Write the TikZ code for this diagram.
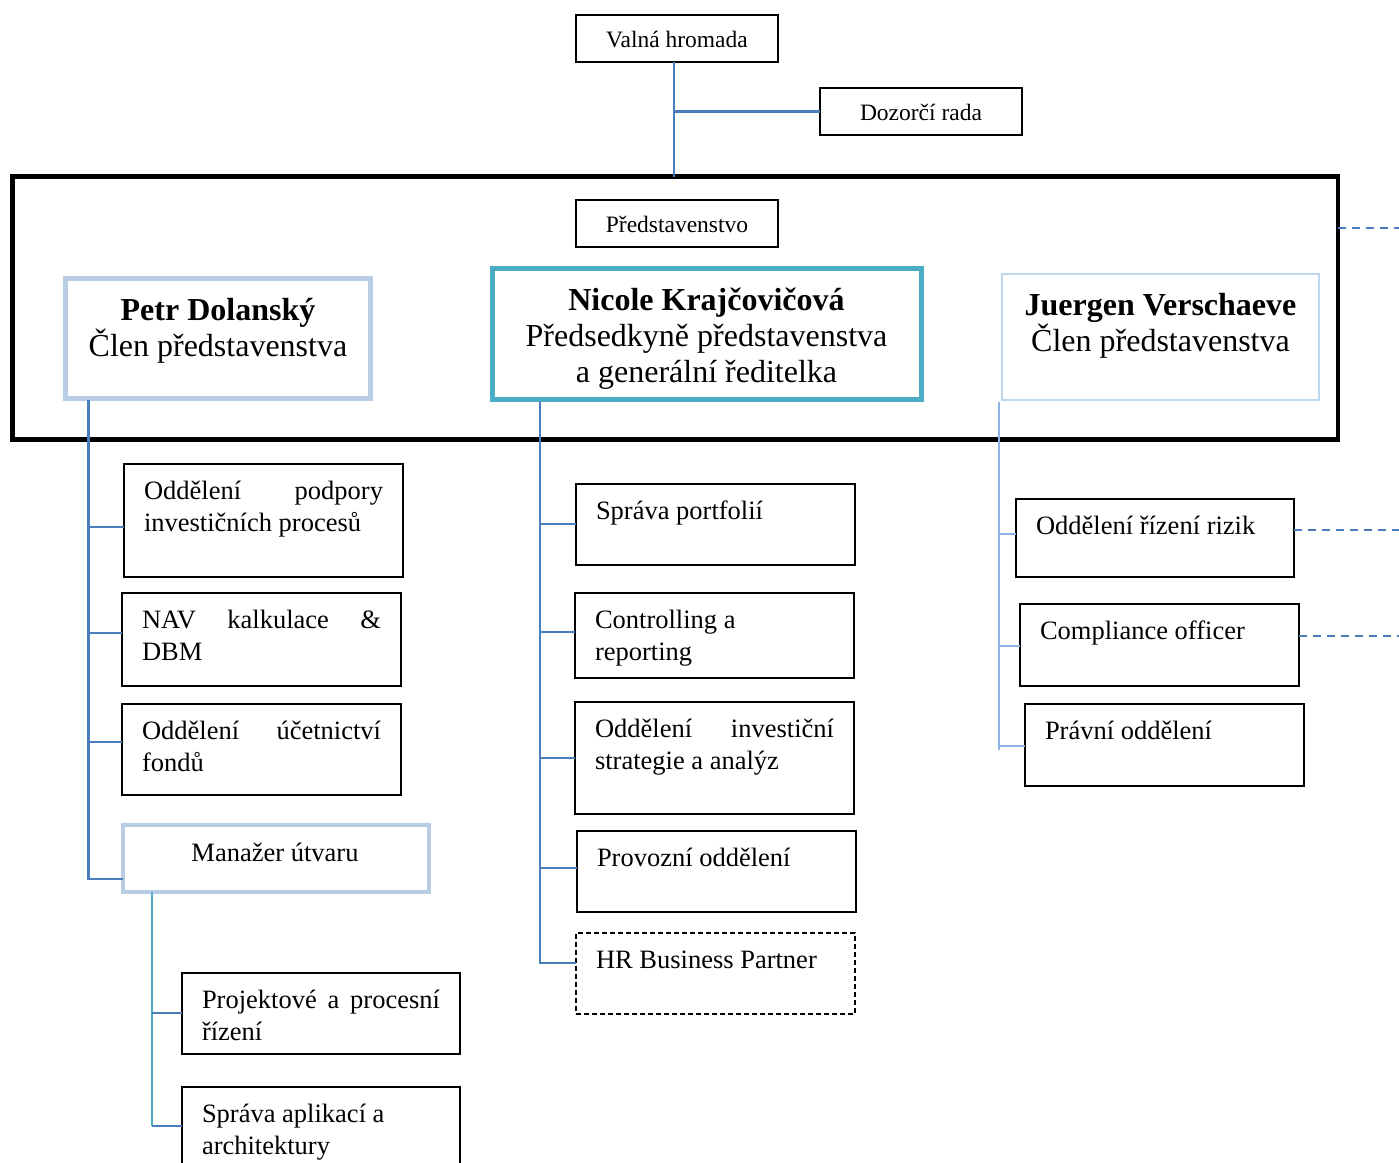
\documentclass[tikz,border=0pt]{standalone}
\usepackage{fontspec}
\setmainfont{Liberation Serif}
\definecolor{connc}{RGB}{74,126,187}
\definecolor{nkteal}{RGB}{75,172,198}
\definecolor{palec}{RGB}{185,205,229}
\definecolor{palebc}{RGB}{189,215,238}
\definecolor{rconnc}{RGB}{141,180,226}
\newcommand\deptfont{\fontsize{26.5}{32}\selectfont}
\newcommand\memfont{\fontsize{32}{36}\selectfont}
\newcommand\topfont{\fontsize{23.5}{28}\selectfont}
\tikzset{
  every node/.style={inner sep=0pt, outer sep=0pt},
  blackbox/.style={draw=black, line width=1.5pt, anchor=north west},
  dashbox/.style={draw=black, line width=1.3pt, dash pattern=on 5pt off 3pt, anchor=north west},
  conn/.style={draw=connc, line width=2.2pt},
  rconn/.style={draw=rconnc, line width=2.2pt},
  tconn/.style={draw=nkteal, line width=1.8pt},
  dashconn/.style={draw=connc, line width=2pt, dash pattern=on 8pt off 6pt},
  dtext/.style={anchor=base west, inner sep=0pt}
}
% \dbox{style}{name}{x1}{y1}{x2}{y2}{text}
\newcommand\dbox[7]{%
  \node[#1, minimum width=#5-#3, minimum height=#6-#4] (#2) at (#3,#4) {};
  \node[dtext] (#2t) at ([shift={(20pt,-35pt)}]#2.north west)
    {\parbox[t]{\dimexpr #5pt-#3pt-40pt\relax}{\deptfont\raggedright #7}};
}
\begin{document}
\begin{tikzpicture}[x=1pt,y=-1pt]
\useasboundingbox[fill=white] (0,0) rectangle (1399,1162);

% top
\node[blackbox, minimum width=202, minimum height=47] (vh) at (576,15) {};
\node (vht) at ([yshift=-1pt]vh.center) {\topfont Valná hromada};
\node[blackbox, minimum width=202, minimum height=47] (dr) at (820,88) {};
\node (drt) at ([yshift=-1pt]dr.center) {\topfont Dozorčí rada};

% frame
\node[draw=black, line width=4.5pt, minimum width=1325.5, minimum height=263, anchor=north west] (frame) at (12.5,176.5) {};
\node[blackbox, minimum width=202, minimum height=47] (pr) at (576,200) {};
\node (prt) at ([yshift=-1pt]pr.center) {\topfont Představenstvo};

\draw[conn] ([xshift=-3pt]vh.south) -- ([xshift=-3pt]vh.south |- frame.north);
\draw[conn] ([xshift=-3pt]vh.south |- dr.west) -- (dr.west);

% members
\node[draw=palec, line width=5pt, minimum width=305, minimum height=120, anchor=north west] (petr) at (65.5,278) {};
\node[anchor=base] (petrt) at (218,320) {\parbox[t]{300pt}{\centering\memfont\textbf{Petr Dolanský}\\Člen představenstva}};
\node[draw=nkteal, line width=5pt, minimum width=429, minimum height=131, anchor=north west] (nic) at (492,268) {};
\node[anchor=base] (nict) at (706.5,310) {\parbox[t]{420pt}{\centering\memfont\textbf{Nicole Krajčovičová}\\Předsedkyně představenstva\\a generální ředitelka}};
\node[draw=palebc, line width=2.5pt, minimum width=317, minimum height=126, anchor=north west] (jv) at (1002,274) {};
\node[anchor=base] (jvt) at (1160.5,315) {\parbox[t]{310pt}{\centering\memfont\textbf{Juergen Verschaeve}\\Člen představenstva}};

\coordinate (e0) at (1399,228);
\draw[dashconn] (frame.east |- e0) -- (e0);

% left column
\dbox{blackbox}{l1}{124}{464}{403}{577}{Oddělení\hfill podpory\\investičních procesů}
\dbox{blackbox}{l2}{122}{593}{401}{686}{NAV\hfill kalkulace\hfill \&\\DBM}
\dbox{blackbox}{l3}{122}{704}{401}{795}{Oddělení\hfill účetnictví\\fondů}
\node[draw=palec, line width=4.5pt, minimum width=306, minimum height=67, anchor=north west] (man) at (123,825) {};
\node[anchor=base] (mant) at (275,861) {\deptfont Manažer útvaru};
\coordinate (ls) at (88.5,400);
\draw[conn] (ls) |- (man.west |- 88.5,879);
\draw[conn] (88.5,527) -- (l1.west |- 88.5,527);
\draw[conn] (88.5,633) -- (l2.west |- 88.5,633);
\draw[conn] (88.5,742) -- (l3.west |- 88.5,742);

\dbox{blackbox}{m1}{182}{973}{460}{1054}{Projektové\hfill a\hfill procesní\\řízení}
\dbox{blackbox}{m2}{182}{1087}{460}{1180}{Správa aplikací a\\architektury}
\draw[tconn] (152,892) -- (152,1126);
\draw[conn] (152,1013) -- (m1.west |- 152,1013);
\draw[conn] (152,1126) -- (m2.west |- 152,1126);

% center column
\dbox{blackbox}{c1}{576}{484}{855}{565}{Správa portfolií}
\dbox{blackbox}{c2}{575}{593}{854}{678}{Controlling a\\reporting}
\dbox{blackbox}{c3}{575}{702}{854}{814}{Oddělení\hfill investiční\\strategie a analýz}
\dbox{blackbox}{c4}{577}{831}{856}{912}{Provozní oddělení}
\dbox{dashbox}{c5}{576}{933}{855}{1014}{HR Business Partner}
\coordinate (cs) at (540,402);
\draw[conn] (cs) |- (c5.west |- 540,963);
\draw[conn] (540,524) -- (c1.west |- 540,524);
\draw[conn] (540,632) -- (c2.west |- 540,632);
\draw[conn] (540,758) -- (c3.west |- 540,758);
\draw[conn] (540,868) -- (c4.west |- 540,868);

% right column
\dbox{blackbox}{r1}{1016}{499}{1294}{577}{Oddělení řízení rizik}
\dbox{blackbox}{r2}{1020}{604}{1299}{686}{Compliance officer}
\dbox{blackbox}{r3}{1025}{704}{1304}{786}{Právní oddělení}
\coordinate (rs) at (999,402);
\draw[rconn] (rs) -- (999,750);
\draw[rconn] (999,534) -- (r1.west |- 999,534);
\draw[rconn] (999,646) -- (r2.west |- 999,646);
\draw[rconn] (999,746) -- (r3.west |- 999,746);
\coordinate (e1) at (1399,530);
\coordinate (e2) at (1399,636);
\draw[dashconn] (r1.east |- e1) -- (e1);
\draw[dashconn] (r2.east |- e2) -- (e2);
\end{tikzpicture}
\end{document}
